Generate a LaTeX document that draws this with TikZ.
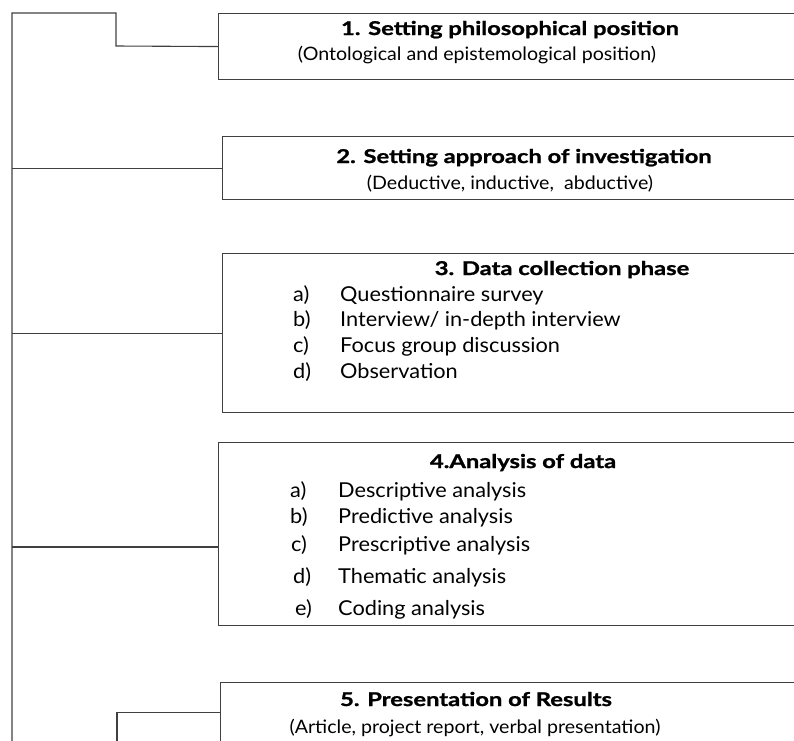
\documentclass[tikz,border=0pt]{standalone}
\usepackage{fontspec}
\setmainfont{Lato}[FakeStretch=1.06]
\newfontfamily\headfont{Lato}[FakeStretch=1.25, BoldFeatures={FakeBold=1.2}]

\begin{document}
\begin{tikzpicture}[
    x=1pt, y=-1pt,
    stage/.style = {rectangle, draw=black!75, line width=1.1pt, anchor=north west, minimum width=620pt, inner sep=0pt},
    head/.style = {font=\headfont\bfseries\fontsize{19}{22}\selectfont, text height=14pt, text depth=4pt, inner sep=0pt},
    note/.style = {font=\fontsize{18.5}{22}\selectfont, text height=14pt, text depth=4pt, inner sep=0pt},
    entry/.style = {font=\fontsize{20.5}{24}\selectfont, text height=15pt, text depth=5pt, inner sep=0pt, anchor=west},
    link/.style = {draw=black!75, line width=1.1pt}
]
\clip (0,0) rectangle (794,740);

% Stage boxes (right edges run past the page)
\node (phil) [stage, minimum height=66pt] at (218,13) {};
\node (approach) [stage, minimum height=63pt] at (222,136) {};
\node (collect) [stage, minimum height=159pt] at (222,253) {};
\node (analysis) [stage, minimum height=183pt] at (218,442) {};
\node (present) [stage, minimum height=60pt] at (220,682) {};

% Stage 1
\node (phil_t) [head] at (510,30) {1. Setting philosophical position};
\node (phil_s) [note] at (477,55) {(Ontological and epistemological position)};

% Stage 2
\node (appr_t) [head] at (524,158) {2. Setting approach of investigation};
\node (appr_s) [note] at (510,184) {(Deductive, inductive,\ \ abductive)};

% Stage 3: title and list
\node (coll_t) [head] at (562,270) {3. Data collection phase};
\node (coll_a) [entry] at (293,296) {a)};
\node (coll_b) [entry] at (293,321) {b)};
\node (coll_c) [entry] at (293,347) {c)};
\node (coll_d) [entry] at (293,373) {d)};
\node (coll_qs) [entry] at (340,296) {Questionnaire survey};
\node (coll_iv) [entry] at (340,321) {Interview/ in-depth interview};
\node (coll_fg) [entry] at (340,347) {Focus group discussion};
\node (coll_ob) [entry] at (340,373) {Observation};

% Stage 4: title and list
\node (anal_t) [head] at (523,463) {4.Analysis of data};
\node (anal_a) [entry] at (290,492) {a)};
\node (anal_b) [entry] at (290,518) {b)};
\node (anal_c) [entry] at (291,546) {c)};
\node (anal_d) [entry] at (293,578) {d)};
\node (anal_e) [entry] at (295,610) {e)};
\node (anal_ds) [entry] at (338,492) {Descriptive analysis};
\node (anal_pd) [entry] at (338,518) {Predictive analysis};
\node (anal_ps) [entry] at (338,546) {Prescriptive analysis};
\node (anal_th) [entry] at (338,578) {Thematic analysis};
\node (anal_cd) [entry] at (338,610) {Coding analysis};

% Stage 5
\node (pres_t) [head] at (476,701) {5. Presentation of Results};
\node (pres_s) [note] at (475,728) {(Article, project report, verbal presentation)};

% Spine and branches
\coordinate (top) at (12,13);
\coordinate (foot) at (12,745);
\coordinate (kink) at (116,46);
\coordinate (tap4) at (12,547);
\coordinate (tail) at (117,745);

\draw [link] (foot) -- (top) -| (kink) -- (phil.west);
\draw [link] (top |- approach.west) -- (approach.west);
\draw [link] (top |- collect.west) -- (collect.west);
\draw [link] (tap4) -- (tap4 -| analysis.west);
\draw [link] (tail) |- (present.west);

\end{tikzpicture}
\end{document}
